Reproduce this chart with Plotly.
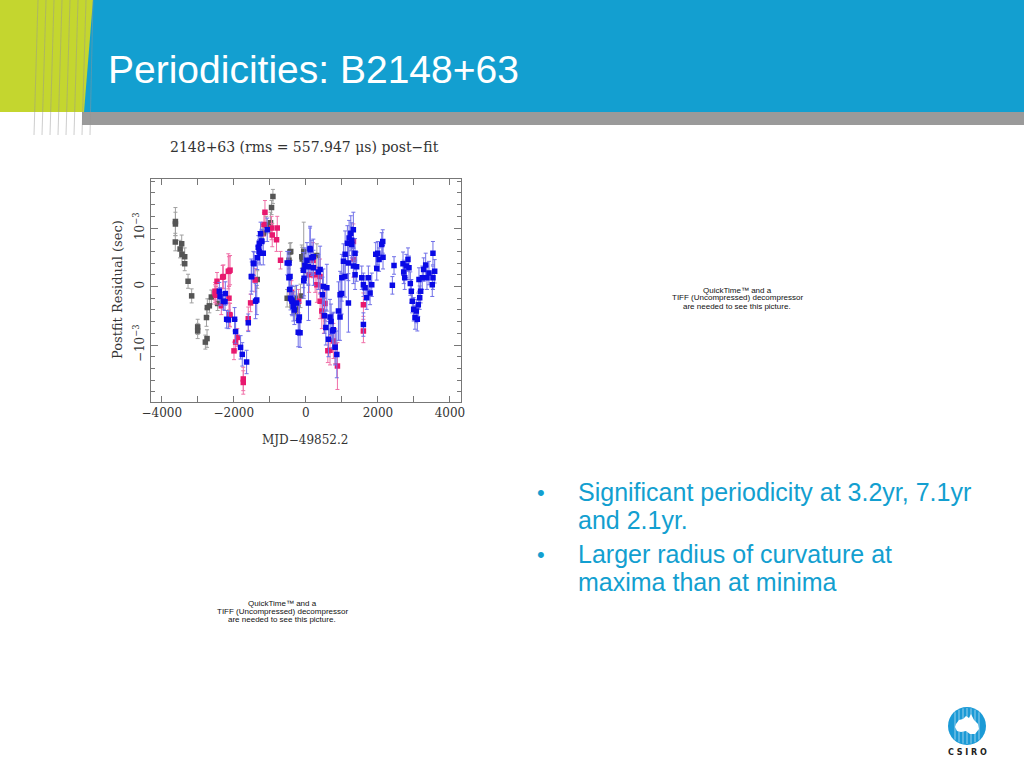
import plotly.graph_objects as go

# ---------------- data (MJD-49852.2 [days], residual [ms], error [ms]) ----------------
gray_x = [-3622, -3622, -3625, -3492, -3448, -3440, -3364, -3364, -3271, -3171,
          -3004, -3004, -2791, -2744, -2760, -2736, -2680, -2625, -2450, -1350,
          -1211, -1180, -1100, -981, -953, -915, -520, -470, -443, -421, -380,
          -301, -300, -250, -150, -115, -102, -60, -24, 305]
gray_y = [1.11, 1.07, 0.76, 0.64, 0.73, 0.55, 0.51, 0.39, 0.09, -0.16,
          -0.69, -0.76, -0.95, -0.89, -0.53, -0.36, -0.33, -0.18, -0.29, 0.12,
          0.91, 0.91, 1.05, 1.09, 1.35, 1.54, -0.20, 0.45, 0.59, 0.60, -0.33,
          -0.43, -0.20, -0.35, -0.16, 0.51, 0.47, 0.60, 0.42, 0.53]
gray_e = [0.24, 0.20, 0.15, 0.15, 0.15, 0.18, 0.15, 0.12, 0.12, 0.12,
          0.13, 0.13, 0.12, 0.15, 0.15, 0.15, 0.12, 0.12, 0.12, 0.15,
          0.15, 0.15, 0.15, 0.18, 0.12, 0.12, 0.15, 0.15, 0.15, 0.15, 0.15,
          0.15, 0.20, 0.15, 0.20, 0.20, 0.20, 0.50, 0.20, 0.20]

pink_x = [-2522, -2521, -2467, -2500, -2311, -2290, -2154, -2135, -2348, -2135,
          -2117, -2105, -2105, -1996, -1950, -1904, -1738, -1738, -1600, -1535,
          -1411, -1164, -1136, -953, -934, -815, -795, -704, -400, -200,
          91, 200, 258, 305, 393, 396, 443, 500, 531, 610,
          670, 765, 812, 876, 1320, 1320, 1597, 1597]
pink_y = [-0.08, -0.12, 0.09, -0.15, 0.16, 0.17, 0.26, 0.26, -0.33, -0.20,
          -0.48, 0.28, -0.49, -1.10, -0.95, -0.87, -1.58, -1.64, -0.55, -0.28,
          0.11, 1.06, 1.27, 1.00, 0.88, 0.80, 1.00, 0.45, -0.10, -0.25,
          0.20, 0.45, 0.20, 0.03, 0.17, -0.25, -0.42, -0.50, -0.29, -1.10,
          -1.09, -0.93, -1.02, -1.36, 0.77, 0.46, -0.31, -0.76]
pink_e = [0.15, 0.15, 0.15, 0.15, 0.20, 0.20, 0.30, 0.25, 0.15, 0.20,
          0.20, 0.25, 0.20, 0.15, 0.15, 0.15, 0.20, 0.20, 0.20, 0.15,
          0.20, 0.20, 0.20, 0.20, 0.20, 0.20, 0.20, 0.15, 0.20, 0.20,
          0.30, 0.30, 0.30, 0.30, 0.30, 0.30, 0.30, 0.30, 0.30, 0.20,
          0.25, 0.30, 0.30, 0.40, 0.30, 0.30, 0.20, 0.20]

blue_x = [-2403, -2382, -2292, -2244, -2237, -2200, -2152, -1979, -1951, -1813,
          -1766, -1646, -1599, -1516, -1503, -1457, -1441, -1397, -1364, -1350,
          -1322, -1300, -1294, -1272, -1258, -1230, -1225, -1183, -1073, -518,
          -471, -468, -450, -440, -427, -393, -380, -348, -320, -260,
          -213, -194, -181, -162, -70, -60, -51, -28, 30, 68,
          72, 115, 119, 166, 207, 211, 346, 396, 461, 485,
          516, 554, 582, 627, 670, 700, 738, 763, 812, 859,
          904, 948, 951, 994, 998, 1043, 1086, 1090, 1153, 1179,
          1181, 1200, 1247, 1272, 1275, 1318, 1320, 1364, 1366, 1410,
          1552, 1597, 1597, 1643, 1690, 1735, 1782, 1829, 1940, 1968,
          1996, 2032, 2106, 2134, 2142, 2401, 2447, 2697, 2716, 2744,
          2788, 2835, 2863, 2899, 2927, 2955, 2993, 3029, 3066, 3093,
          3121, 3140, 3160, 3187, 3232, 3270, 3326, 3362, 3417, 3509,
          3528, 3528, 3576]
blue_y = [-0.08, -0.17, -0.25, -0.26, -0.12, -0.56, -0.57, -0.56, -0.77, -1.04,
          -1.16, -1.29, -0.62, 0.17, 0.17, 0.40, 0.39, -0.25, -0.23, 0.49,
          0.67, 0.60, 0.74, 0.57, 0.90, 0.78, 0.77, 0.57, 0.97, 0.40,
          0.15, 0.40, -0.05, 0.17, -0.20, -0.23, -0.25, -0.34, -0.40, -0.28,
          -0.78, -0.58, -0.52, -0.79, 0.28, 0.10, 0.14, 0.36, 0.45, 0.34,
          -0.28, 0.65, 0.63, 0.49, 0.51, 0.32, 0.25, 0.29, -0.14, 0.00,
          -0.50, -0.70, -0.02, -0.90, -0.52, -0.60, -0.76, -0.74, -1.04, -1.16,
          -0.42, -0.52, -0.14, -0.12, 0.15, 0.43, 0.17, 0.55, 0.74, 0.40,
          -0.28, 0.83, 0.91, 0.79, 0.72, 0.97, 0.35, 0.57, 0.20, 0.34,
          0.15, 0.03, -0.65, -0.02, -0.19, 0.15, -0.11, 0.03, 0.55, 0.31,
          0.57, 0.46, 0.72, 0.77, 0.50, 0.02, 0.36, 0.39, 0.25, 0.15,
          0.35, 0.46, 0.32, 0.05, -0.08, -0.25, -0.39, -0.53, -0.42, -0.56,
          -0.31, 0.12, -0.19, -0.08, 0.15, 0.29, 0.37, 0.15, 0.23, 0.03,
          0.57, 0.15, 0.26]
blue_e = [0.15, 0.15, 0.15, 0.15, 0.20, 0.15, 0.15, 0.20, 0.20, 0.20,
          0.20, 0.20, 0.15, 0.30, 0.25, 0.20, 0.20, 0.30, 0.25, 0.20,
          0.20, 0.20, 0.20, 0.20, 0.20, 0.20, 0.20, 0.20, 0.20, 0.20,
          0.20, 0.20, 0.20, 0.20, 0.20, 0.25, 0.25, 0.25, 0.25, 0.30,
          0.25, 0.25, 0.25, 0.25, 0.30, 0.30, 0.30, 0.30, 0.30, 0.30,
          0.30, 0.35, 0.40, 0.30, 0.30, 0.30, 0.30, 0.40, 0.30, 0.30,
          0.30, 0.30, 0.40, 0.30, 0.30, 0.30, 0.30, 0.30, 0.30, 0.40,
          0.50, 0.40, 0.40, 0.35, 0.40, 0.30, 0.35, 0.40, 0.30, 0.30,
          0.50, 0.30, 0.30, 0.30, 0.30, 0.30, 0.30, 0.25, 0.25, 0.25,
          0.20, 0.20, 0.20, 0.20, 0.20, 0.20, 0.20, 0.20, 0.20, 0.20,
          0.20, 0.20, 0.20, 0.20, 0.20, 0.15, 0.15, 0.20, 0.20, 0.20,
          0.20, 0.20, 0.20, 0.20, 0.20, 0.20, 0.20, 0.20, 0.20, 0.20,
          0.20, 0.20, 0.20, 0.20, 0.20, 0.20, 0.20, 0.20, 0.20, 0.20,
          0.20, 0.20, 0.20]

x_tickvals = [-4000, -2000, 0, 2000, 4000]
x_ticktext = ["\u22124000", "\u22122000", "0", "2000", "4000"]
y_tickvals = [-1, 0, 1]
y_ticktext = ["\u221210<sup>\u22123</sup>", "0", "10<sup>\u22123</sup>"]

W, H = 1024, 768
def px(x):
    return x / W
def py(y):
    return 1 - y / H

SERIF = "DejaVu Serif"
SANS = "Liberation Sans"
BLUE_HDR = "#139fd0"

fig = go.Figure()

def add_series(xs, ys, es, mcol, ecol, name):
    fig.add_trace(go.Scatter(
        x=xs, y=ys, mode="markers", name=name,
        marker=dict(symbol="square", size=5.5, color=mcol, line=dict(width=0)),
        error_y=dict(type="data", array=es, visible=True, color=ecol,
                     thickness=1, width=2),
        showlegend=False, hoverinfo="skip"))

add_series(gray_x, gray_y, gray_e, "#555555", "#a0a0a0", "gray")
add_series(pink_x, pink_y, pink_e, "#e8186e", "#f070a8", "pink")
add_series(blue_x, blue_y, blue_e, "#0a0ae6", "#7070e8", "blue")

fig.update_layout(
    width=W, height=H, margin=dict(l=0, r=0, t=0, b=0, autoexpand=False),
    paper_bgcolor="white", plot_bgcolor="white", showlegend=False,
    xaxis=dict(domain=[px(151), px(461.3)], range=[-4300, 4315], automargin=False,
               tickvals=x_tickvals, ticktext=x_ticktext,
               ticks="inside", ticklen=6, tickcolor="#777", tickwidth=1,
               minor=dict(dtick=1000, ticks="inside", ticklen=6, tickcolor="#777"),
               mirror="allticks", showline=True, linecolor="#777", linewidth=1,
               showgrid=False, zeroline=False,
               tickfont=dict(family=SERIF, size=12, color="#333")),
    yaxis=dict(domain=[py(402), py(179)], range=[-1.974, 1.838], automargin=False,
               tickvals=y_tickvals, ticktext=y_ticktext, tickangle=-90,
               ticks="inside", ticklen=7, tickcolor="#777", tickwidth=1,
               minor=dict(dtick=0.2, ticks="inside", ticklen=4, tickcolor="#777"),
               mirror="allticks", showline=True, linecolor="#777", linewidth=1,
               showgrid=False, zeroline=False, ticklabelstandoff=1,
               tickfont=dict(family=SERIF, size=12, color="#333")),
)

shapes = []
# header
shapes.append(dict(type="rect", xref="paper", yref="paper", x0=0, x1=1,
                   y0=py(112), y1=1, fillcolor=BLUE_HDR, line=dict(width=0), layer="below"))
shapes.append(dict(type="path", xref="paper", yref="paper",
                   path=f"M 0 {py(0)} L {px(93)} {py(0)} L {px(84)} {py(112)} L 0 {py(112)} Z",
                   fillcolor="#c4d62f", line=dict(width=0), layer="below"))
shapes.append(dict(type="rect", xref="paper", yref="paper", x0=px(82), x1=1,
                   y0=py(125), y1=py(112), fillcolor="#9a9a9a", line=dict(width=0), layer="below"))
# thin decorative lines on the left
for x0, x1 in [(38, 34), (46, 42), (54, 50), (62, 58), (70, 66), (78, 74), (86, 82), (93, 90)]:
    shapes.append(dict(type="line", xref="paper", yref="paper",
                       x0=px(x0), y0=py(0), x1=px(x1), y1=py(135),
                       line=dict(color="rgba(150,150,150,0.6)", width=0.8)))
# CSIRO logo circle
cx, cy, r = 967, 726, 19
shapes.append(dict(type="circle", xref="paper", yref="paper",
                   x0=px(cx - r), x1=px(cx + r), y0=py(cy + r), y1=py(cy - r),
                   fillcolor="#1b9ad6", line=dict(width=0)))
for dx in [-12, -8, -4, 0, 4, 8, 12]:
    half = (r * r - dx * dx) ** 0.5
    shapes.append(dict(type="line", xref="paper", yref="paper",
                       x0=px(cx + dx), x1=px(cx + dx), y0=py(cy - half + 1), y1=py(cy + half - 1),
                       line=dict(color="rgba(255,255,255,0.55)", width=1)))
aus = [(-11, -2), (-8, -6), (-4, -7), (-1, -10), (2, -8), (4, -12), (7, -6), (11, -2),
       (12, 3), (8, 8), (3, 8), (-1, 5), (-6, 6), (-10, 5), (-12, 1)]
path = "M " + " L ".join(f"{px(cx + a)} {py(cy + b)}" for a, b in aus) + " Z"
shapes.append(dict(type="path", xref="paper", yref="paper", path=path,
                   fillcolor="white", line=dict(width=0)))
fig.update_layout(shapes=shapes)

ann = []
def text(x, y, s, size, color, family=SANS, xanchor="center", yanchor="middle", angle=0, weight=None):
    f = dict(family=family, size=size, color=color)
    if weight:
        f["weight"] = weight
    ann.append(dict(x=px(x), y=py(y), xref="paper", yref="paper", text=s,
                    showarrow=False, xanchor=xanchor, yanchor=yanchor, textangle=angle,
                    font=f))

text(106, 69, "Periodicities: B2148+63", 39, "white", xanchor="left")
text(304, 147, "2148+63 (rms = 557.947 \u03bcs) post\u2212fit", 14, "#333", family=SERIF)
text(305, 440, "MJD\u221249852.2", 12, "#333", family=SERIF)
text(117, 290, "Postfit Residual (sec)", 13, "#333", family=SERIF, angle=-90)

# bullets
for yb, lines in [(492, ["Significant periodicity at 3.2yr, 7.1yr", "and 2.1yr."]),
                  (554, ["Larger radius of curvature at", "maxima than at minima"])]:
    text(541, yb, "\u2022", 22, BLUE_HDR)
    for i, ln in enumerate(lines):
        text(576, yb + i * 28, ln, 25, BLUE_HDR, xanchor="left")

# QuickTime placeholders
for qx, qy in [(737, 290), (282, 603)]:
    for i, ln in enumerate(["QuickTime\u2122 and a", "TIFF (Uncompressed) decompressor",
                            "are needed to see this picture."]):
        text(qx, qy + i * 8, ln, 8, "#111")

text(967, 752, "C S I R O", 8, "#222", family="DejaVu Sans", weight="bold")

fig.update_layout(annotations=ann)
fig.write_html("out.html", config={"displayModeBar": False},
               post_script="document.body.style.margin='0';"
                           "document.body.style.overflow='hidden';"
                           "document.documentElement.style.overflow='hidden';")
